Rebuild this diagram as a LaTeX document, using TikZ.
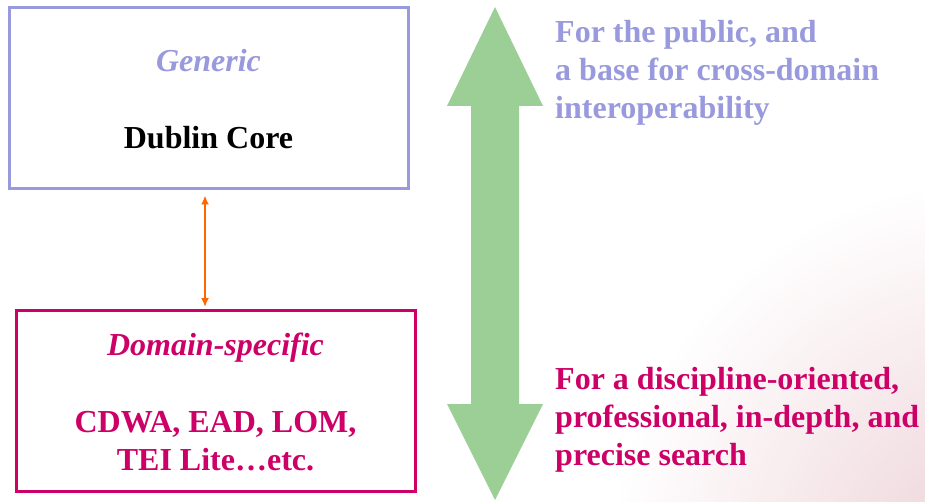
\documentclass[tikz,border=0pt]{standalone}
\usepackage{fontspec}
\setmainfont{Liberation Serif}
\usetikzlibrary{arrows.meta}
\definecolor{lav}{HTML}{9999DD}
\definecolor{mag}{HTML}{CC0066}
\definecolor{grn}{HTML}{9BCF96}
\definecolor{org}{HTML}{FF6600}
\definecolor{bgpink}{HTML}{EDD2D7}
\tikzset{
  box/.style={draw, line width=3pt, minimum width=399pt, minimum height=181pt, inner sep=0pt},
  big/.style={font=\fontsize{32}{38}\selectfont\bfseries, inner sep=0pt},
  lbl/.style={big, align=left, anchor=base west},
}
\begin{document}
\begin{tikzpicture}[x=1pt,y=-1pt]
\useasboundingbox (0,0) rectangle (925,502);
\begin{scope}
\clip (0,0) rectangle (925,502);
\shade[inner color=bgpink, outer color=white] (990,560) circle (380);
\end{scope}
% boxes
\node[box, draw=lav] (top) at (208.5,98.5) {};
\node[box, draw=mag] (bot) at (215.5,401) {};
% box texts
\node[big, text=lav, font=\fontsize{32}{38}\selectfont\bfseries\itshape, anchor=base] (gen) at (208.5,72) {Generic};
\node[big, anchor=base] (dc) at (208.5,149) {Dublin Core};
\node[big, text=mag, font=\fontsize{32}{38}\selectfont\bfseries\itshape, anchor=base] (ds) at (215.5,355) {Domain-specific};
\node[big, text=mag, align=center, anchor=base] (std) at (215.5,470) {CDWA, EAD, LOM,\\TEI Lite…etc.};
% orange connector
\coordinate (ax) at (205,0);
\draw[org, line width=2.5pt, {Latex[length=9pt,width=8pt]}-{Latex[length=9pt,width=8pt]}, shorten <=5pt, shorten >=2pt]
  (top.south -| ax) -- (bot.north -| ax);
% green double arrow
\fill[grn] (495,7) -- (543,106) -- (519,106) -- (519,404) -- (543,404) -- (495,500)
  -- (447,404) -- (471,404) -- (471,106) -- (447,106) -- cycle;
% right texts
\node[lbl, text=lav] (pub) at (555,119) {For the public, and\\a base for cross-domain\\interoperability};
\node[lbl, text=mag] (disc) at (555,465) {For a discipline-oriented,\\professional, in-depth, and\\precise search};
\end{tikzpicture}
\end{document}
